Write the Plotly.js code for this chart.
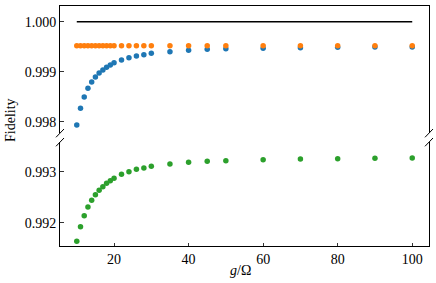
<!DOCTYPE html>
<html>
<head>
<meta charset="utf-8">
<script src="https://cdn.plot.ly/plotly-3.0.1.min.js"></script>
<style>html,body{margin:0;padding:0;background:#fff;}#chart{width:436px;height:283px;}</style>
</head>
<body>
<div id="chart"></div>
<script>
// g/Omega values
const gValues = [10,11,12,13,14,15,16,17,18,19,20,22,24,26,28,30,35,40,45,50,60,70,80,90,100];
// blue series (top panel)
const blueFidelity = [0.997934,0.998268,0.998494,0.998668,0.998794,0.998894,0.998974,0.999034,0.999088,0.999134,0.999180,0.999234,0.999280,0.999314,0.999340,0.999368,0.999400,0.999428,0.999448,0.999460,0.999470,0.999480,0.999488,0.999492,0.999495];
// orange series (top panel)
const orangeFidelity = [0.99952,0.99952,0.99952,0.99952,0.99952,0.99952,0.99952,0.99952,0.99952,0.99952,0.99952,0.99952,0.99952,0.99952,0.99952,0.99952,0.99952,0.99952,0.99952,0.99952,0.99952,0.99952,0.99952,0.99952,0.99952];
// green series (bottom panel)
const greenFidelity = [0.991635,0.991922,0.992137,0.992308,0.992439,0.992549,0.992635,0.992706,0.992771,0.992824,0.992870,0.992949,0.993000,0.993047,0.993073,0.993106,0.993150,0.993184,0.993204,0.993216,0.993235,0.993249,0.993255,0.993263,0.993269];
// ideal reference line
const idealX = [10, 100];
const idealY = [1.0, 1.0];
// tick labels
const xTicks = [20, 40, 60, 80, 100];
const yTopTicks = [0.998, 0.999, 1.000];
const yBottomTicks = [0.992, 0.993];

const W = 436, H = 283;
const L = 60, R = 429, T = 6, B = 246;
const font = {family: 'Liberation Serif, Times New Roman, serif', size: 14, color: '#000'};
const px = x => (x - L) / (R - L);
const py = y => (B - y) / (B - T);

const mk = (c) => ({color: c, size: 5.5, line: {width: 0}});
const traces = [
  {x: idealX, y: idealY, xaxis: 'x2', yaxis: 'y2', mode: 'lines', line: {color: '#000', width: 1.6}, hoverinfo: 'skip'},
  {x: gValues, y: blueFidelity, xaxis: 'x2', yaxis: 'y2', mode: 'markers', marker: mk('#1f77b4')},
  {x: gValues, y: orangeFidelity, xaxis: 'x2', yaxis: 'y2', mode: 'markers', marker: mk('#ff7f0e')},
  {x: gValues, y: greenFidelity, xaxis: 'x', yaxis: 'y', mode: 'markers', marker: mk('#2ca02c')}
];

const axLine = {showline: true, linecolor: '#000', linewidth: 1, showgrid: false, zeroline: false};
const diag = (x0, y0, x1, y1) => ({type: 'line', xref: 'paper', yref: 'paper', x0: px(x0), y0: py(y0), x1: px(x1), y1: py(y1), line: {color: '#000', width: 1}});

const layout = {
  width: W, height: H,
  margin: {l: L, r: W - R, t: T, b: H - B},
  paper_bgcolor: '#fff', plot_bgcolor: '#fff',
  showlegend: false,
  font: font,
  xaxis: Object.assign({}, axLine, {range: [5.5, 104.5], anchor: 'y', side: 'bottom', tickvals: xTicks, ticks: 'inside', ticklen: 3.5, tickwidth: 0.8, tickcolor: '#000', tickfont: font}),
  xaxis2: Object.assign({}, axLine, {range: [5.5, 104.5], anchor: 'y2', side: 'top', matches: 'x', showticklabels: false, ticks: ''}),
  yaxis: Object.assign({}, axLine, {domain: [0, py(142)], range: [0.991543, 0.993582], anchor: 'x', mirror: true, tickvals: yBottomTicks, tickformat: '.3f', ticks: 'inside', ticklen: 3.5, tickwidth: 0.8, tickcolor: '#000', tickfont: font}),
  yaxis2: Object.assign({}, axLine, {domain: [py(132.5), 1], range: [0.997784, 1.000314], anchor: 'x2', mirror: true, tickvals: yTopTicks, tickformat: '.3f', ticks: 'inside', ticklen: 3.5, tickwidth: 0.8, tickcolor: '#000', tickfont: font}),
  shapes: [
    diag(56, 137.3, 64, 129), diag(56, 146.3, 64, 138),
    diag(425, 137.3, 433, 129), diag(425, 146.3, 433, 138)
  ],
  annotations: [
    {text: 'Fidelity', xref: 'paper', yref: 'paper', x: px(10), y: py(120), textangle: -90, showarrow: false, font: font, xanchor: 'center', yanchor: 'middle'},
    {text: '<i>g</i>/Ω', xref: 'paper', yref: 'paper', x: px(240), y: py(270), showarrow: false, font: font, xanchor: 'center', yanchor: 'middle'}
  ]
};

Plotly.newPlot('chart', traces, layout, {staticPlot: true, displayModeBar: false});
</script>
</body>
</html>
